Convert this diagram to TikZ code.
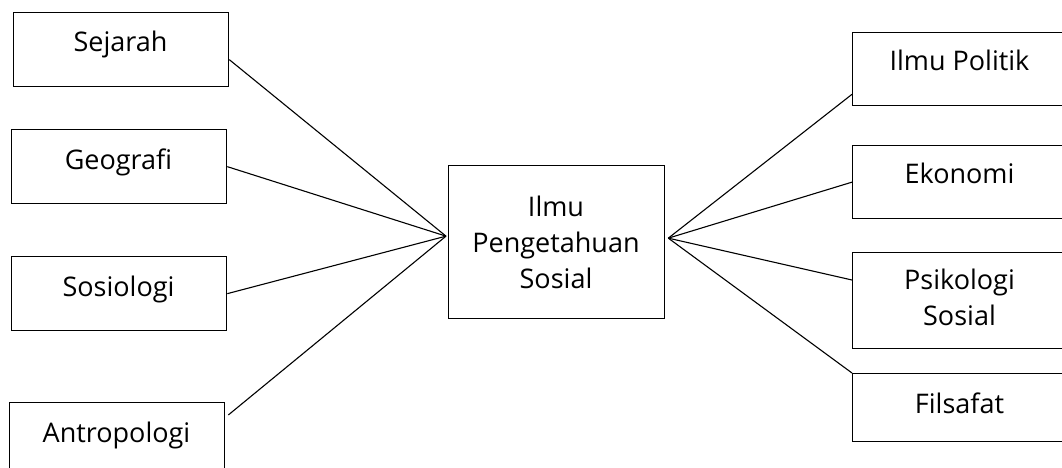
\documentclass[tikz,border=0pt]{standalone}
\usepackage{fontspec}
\setmainfont{Open Sans}
\usetikzlibrary{calc}
\tikzset{
  box/.style={draw=black, line width=1.3pt, rectangle, anchor=north west, inner sep=0pt},
  txt/.style={font=\fontsize{27}{36}\selectfont, inner sep=0pt, align=center},
  conn/.style={draw=black, line width=1.1pt}
}
\begin{document}
\begin{tikzpicture}[x=1pt,y=-1pt]
\useasboundingbox (0,0) rectangle (1062,468);
% left boxes
\node[box, minimum width=215pt, minimum height=74pt] (sej) at (13,12) {};
\node[box, minimum width=215pt, minimum height=74pt] (geo) at (11,129) {};
\node[box, minimum width=215pt, minimum height=74pt] (sos) at (11,256) {};
\node[box, minimum width=215pt, minimum height=90pt] (ant) at (9,402) {};
% center box
\node[box, minimum width=216pt, minimum height=153pt] (cen) at (448,165) {};
% right boxes
\node[box, minimum width=220pt, minimum height=73pt] (pol) at (852,32) {};
\node[box, minimum width=220pt, minimum height=73pt] (eko) at (852,145) {};
\node[box, minimum width=220pt, minimum height=96pt] (psi) at (852,252) {};
\node[box, minimum width=220pt, minimum height=68pt] (fil) at (852,373) {};
% texts
\node[txt, anchor=base] (sejT) at (120.5,52) {Sejarah};
\node[txt, anchor=base] (geoT) at (118.5,169) {Geografi};
\node[txt, anchor=base] (sosT) at (118.5,296) {Sosiologi};
\node[txt, anchor=base] (antT) at (116.5,442) {Antropologi};
\node[txt] (cenT) at (556,242) {Ilmu\\Pengetahuan\\Sosial};
\node[txt, anchor=base] (polT) at (959.5,71) {Ilmu Politik};
\node[txt, anchor=base] (ekoT) at (959.5,183) {Ekonomi};
\node[txt] (psiT) at (959.5,297) {Psikologi\\Sosial};
\node[txt, anchor=base] (filT) at (959.5,413) {Filsafat};
% convergence points
\coordinate (cl) at ($(cen.west)+(-2,-6)$);
\coordinate (cr) at ($(cen.east)+(3,-4)$);
% connectors
\draw[conn] ($(sej.east)+(0,10)$) -- (cl);
\draw[conn] (geo.east) -- (cl);
\draw[conn] (sos.east) -- (cl);
\draw[conn] ($(ant.north east)+(3,13)$) -- (cl);
\draw[conn] ($(pol.south west)+(0,-12)$) -- (cr);
\draw[conn] (eko.west) -- (cr);
\draw[conn] ($(psi.north west)+(0,28)$) -- (cr);
\draw[conn] (fil.north west) -- (cr);
\end{tikzpicture}
\end{document}
